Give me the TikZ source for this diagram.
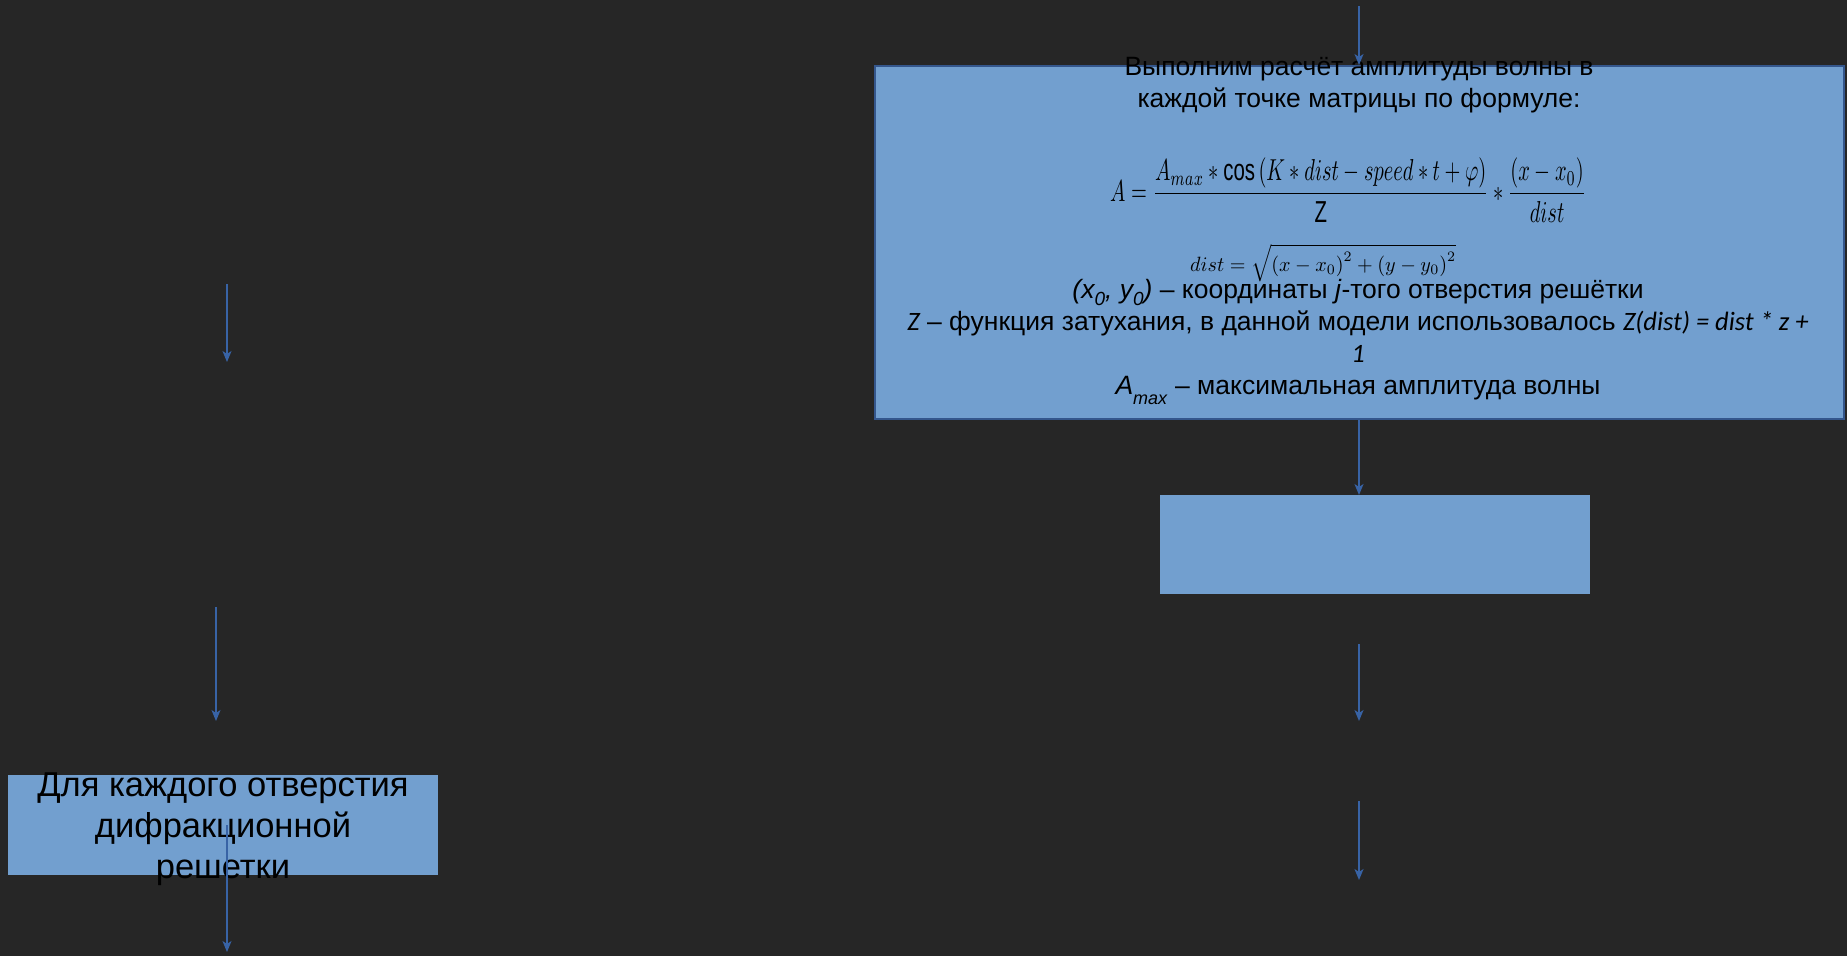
\documentclass[tikz,border=0pt]{standalone}
\usepackage{fontspec}
\setmainfont{Liberation Sans}
\newfontfamily\calib{Carlito}
\usepackage{graphicx}
\usetikzlibrary{arrows.meta}
\definecolor{bg}{RGB}{38,38,38}
\definecolor{boxfill}{RGB}{114,159,207}
\definecolor{boxline}{RGB}{52,86,140}
\definecolor{arr}{RGB}{56,99,165}
\newcommand\lowsub[3]{\raisebox{-#1}{\fontsize{#2}{#2}\selectfont #3}}
\begin{document}
\begin{tikzpicture}[x=1pt,y=-1pt,
  flowbox/.style={fill=boxfill, draw=none, inner sep=0, anchor=north west},
  flowarrow/.style={draw=arr, line width=1.6pt, -{Stealth[length=11pt,width=9pt,inset=3pt]}},
  txt/.style={inner sep=0, text=black, align=center, anchor=base},
  formula/.style={inner sep=0, text=black, anchor=north west}]
\useasboundingbox (0,0) rectangle (1847,956);
\fill[bg] (0,0) rectangle (1847,956);
% boxes
\node[flowbox, draw=boxline, line width=2pt, minimum width=969pt, minimum height=353pt] (big) at (874,65) {};
\node[flowbox, minimum width=430pt, minimum height=99pt] (small) at (1160,495) {};
\node[flowbox, minimum width=430pt, minimum height=100pt] (left) at (8,775) {};
% texts (base anchor = baseline of the last line)
\node[txt, font=\fontsize{26.5}{32}\selectfont] (head) at (1359,107) {Выполним расчёт амплитуды волны в\\каждой точке матрицы по формуле:};
\node[formula] (f1) at (1110,158) {\resizebox*{476pt}{64pt}{$\displaystyle A=\frac{A_{max}*\cos\left(K*dist-speed*t+\varphi\right)}{\mathrm{Z}}*\frac{\left(x-x_0\right)}{dist}$}};
\node[formula] (f2) at (1190,244) {\resizebox*{266pt}{38pt}{$dist=\sqrt{\left(x-x_0\right)^2+\left(y-y_0\right)^2}$}};
\node[txt, font=\fontsize{26.5}{32}\selectfont] (desc) at (1358,394) {\textit{(x\lowsub{7pt}{19}{0}, y\lowsub{7pt}{19}{0})} – координаты \textit{j}-того отверстия решётки\\
{\calib\itshape Z} – функция затухания, в данной модели использовалось {\calib\itshape Z(dist) = dist * z +}\\
{\calib\itshape 1}\\
\textit{A}\lowsub{10pt}{18}{\textit{max}} – максимальная амплитуда волны};
\node[txt, font=\fontsize{34.5}{41}\selectfont] (ltext) at (223,878) {Для каждого отверстия\\дифракционной\\решетки};
% connectors
\coordinate (t0) at (1359,6);
\coordinate (r3a) at (1359,644);
\coordinate (r3b) at (1359,721);
\coordinate (r4a) at (1359,801);
\coordinate (r4b) at (1359,880);
\coordinate (l1a) at (227,284);
\coordinate (l1b) at (227,362);
\coordinate (l2a) at (216,607);
\coordinate (l2b) at (216,721);
\coordinate (l3a) at (227,825);
\coordinate (l3b) at (227,952);
\draw[flowarrow] (t0) -- (t0 |- big.north);
\draw[flowarrow] (t0 |- big.south) -- (t0 |- small.north);
\draw[flowarrow] (r3a) -- (r3b);
\draw[flowarrow] (r4a) -- (r4b);
\draw[flowarrow] (l1a) -- (l1b);
\draw[flowarrow] (l2a) -- (l2b);
\draw[flowarrow] (l3a) -- (l3b);
\end{tikzpicture}
\end{document}
